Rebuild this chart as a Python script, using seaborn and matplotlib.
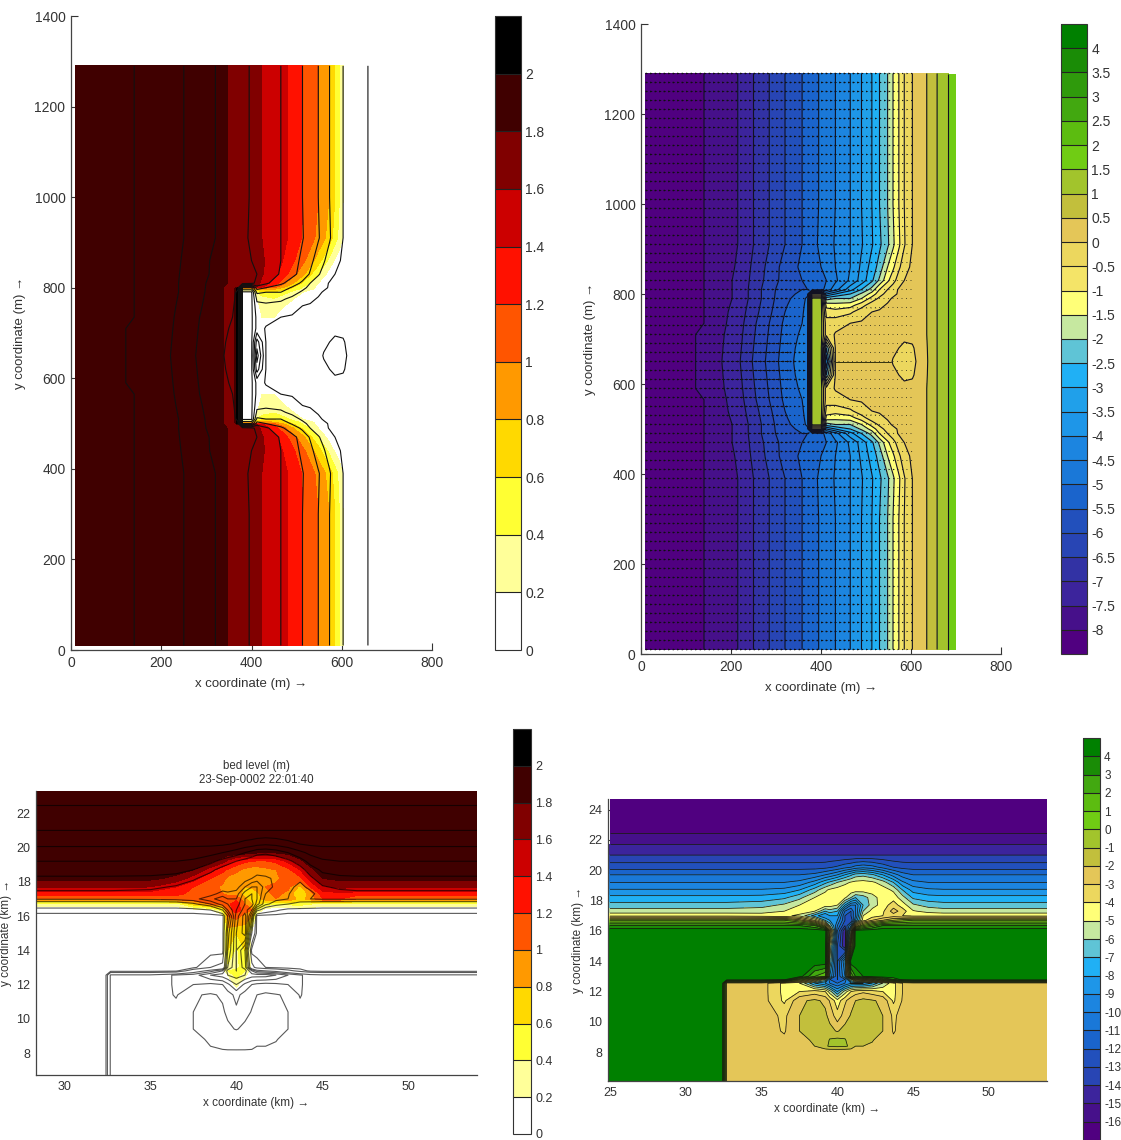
import numpy as np
import matplotlib
matplotlib.use('Agg')
import matplotlib.pyplot as plt
from matplotlib.colors import ListedColormap, BoundaryNorm
import seaborn as sns

W, H = 1121, 1140

# ---- top panels: rows are distance from the breakwater centre line (y = 650 m)
row_dy = [0, 30, 60, 85, 110, 125, 140, 150, 160, 180, 210, 260, 350, 640]
bed_x = [10, 140, 215, 250, 285, 320, 358, 370, 380, 400, 412, 432, 465, 490, 513, 530, 548, 560, 573, 585, 603, 635, 658, 683, 700]
bed_rows = [
    [-8.3, -7.95, -7.1, -6.45, -5.85, -5.25, -4.75, -4.6, 1.2, 1.2, -3.5, .02, .1, .1, .1, .1, .1, -.02, -.15, -.2, -.15, .45, 1, 1.5, 1.9],
    [-8.3, -7.95, -7.15, -6.5, -5.9, -5.3, -4.8, -4.6, 1.2, 1.2, -2.5, .02, .1, .1, .1, .1, .1, .06, 0, -.08, -.06, .47, 1, 1.5, 1.9],
    [-8.3, -7.95, -7.2, -6.55, -5.95, -5.35, -4.9, -4.6, 1.2, 1.2, -.3, .05, .1, .1, .1, .1, .1, .1, .1, .1, .15, .5, 1, 1.5, 1.9],
    [-8.3, -8, -7.25, -6.6, -6, -5.4, -5, -4.7, 1.2, 1.2, -.3, -.2, 0, .05, .1, .1, .1, .1, .1, .1, .2, .5, 1, 1.5, 1.9],
    [-8.3, -8, -7.3, -6.7, -6.1, -5.5, -5.1, -4.7, 1.2, 1.2, -.7, -.8, -.6, -.2, 0, .05, .1, .1, .1, .1, .2, .5, 1, 1.5, 1.9],
    [-8.3, -8, -7.35, -6.75, -6.15, -5.55, -5.2, -4.7, 1.2, 1.2, -1.2, -1.3, -1.2, -.7, -.2, -.1, .05, .1, .1, .1, .2, .5, 1, 1.5, 1.9],
    [-8.3, -8, -7.4, -6.8, -6.2, -5.6, -5.3, -4.8, 1.2, 1.2, -2.2, -2, -2, -1.5, -.8, -.4, -.1, .05, .1, .1, .2, .5, 1, 1.5, 1.9],
    [-8.3, -8, -7.4, -6.8, -6.2, -5.65, -5.4, -5.2, -1, -1, -3.5, -3, -2.5, -1.9, -1.3, -.7, -.3, -.1, .05, .1, .2, .5, 1, 1.5, 1.9],
    [-8.3, -8, -7.4, -6.8, -6.2, -5.7, -5.5, -5.5, -5.4, -5.2, -4.8, -4.2, -3.2, -2.5, -1.8, -1, -.5, -.2, .05, .1, .2, .5, 1, 1.5, 1.9],
    [-8.3, -8, -7.4, -6.85, -6.3, -5.8, -5.5, -5.45, -5.4, -5.2, -5, -4.6, -3.9, -3.3, -2.6, -1.9, -1.1, -.7, -.25, 0, .15, .5, 1, 1.5, 1.9],
    [-8.3, -8, -7.45, -6.9, -6.35, -5.8, -5.4, -5.3, -5.2, -5, -4.8, -4.5, -4, -3.4, -2.8, -2.3, -1.5, -1.1, -.6, -.2, .1, .5, 1, 1.5, 1.9],
    [-8.3, -8, -7.5, -7, -6.5, -6, -5.5, -5.3, -5.15, -4.9, -4.75, -4.45, -4, -3.55, -3.05, -2.6, -2.1, -1.6, -1.1, -.55, 0, .5, 1, 1.5, 1.9],
    [-8.3, -8, -7.5, -7, -6.5, -6, -5.5, -5.35, -5.2, -4.93, -4.77, -4.5, -4, -3.5, -3, -2.5, -2, -1.5, -1, -.5, 0, .5, 1, 1.5, 1.9],
    [-8.3, -8, -7.5, -7, -6.5, -6, -5.5, -5.35, -5.2, -4.93, -4.77, -4.5, -4, -3.5, -3, -2.5, -2, -1.5, -1, -.5, 0, .5, 1, 1.5, 1.9],
]
# thin line seen only in the bed level panel, east of the scour hole
centre_line_x = [430, 556]
centre_line_y = [650, 650]

wave_dy = [0, 60, 85, 110, 125, 140, 148, 152, 160, 180, 210, 260, 350, 640]
wave_x = [10, 140, 250, 320, 346, 362, 368, 380, 381, 404, 405, 412, 423, 450, 480, 514, 548, 572, 585, 595, 603, 620, 700]
wave_rows = [
    [1.95, 1.93, 1.9, 1.85, 1.78, 1.7, 2.15, 2.15, 0, 0, .05, .05, .05, .05, .05, .05, .05, .05, .05, .05, .05, .05, .05],
    [1.95, 1.93, 1.9, 1.85, 1.78, 1.7, 2.15, 2.15, 0, 0, .05, .05, .05, .05, .05, .05, .05, .05, .05, .05, .05, .05, .05],
    [1.95, 1.93, 1.9, 1.85, 1.78, 1.7, 2.15, 2.15, 0, 0, .05, .1, .2, .2, .1, .05, .05, .05, .05, .05, .05, .05, .05],
    [1.95, 1.93, 1.9, 1.85, 1.78, 1.7, 2.15, 2.15, 0, 0, .1, .15, .25, .28, .18, .06, .05, .05, .05, .05, .05, .05, .05],
    [1.95, 1.93, 1.9, 1.85, 1.78, 1.7, 2.15, 2.15, 0, 0, .1, .2, .32, .38, .25, .12, .05, .05, .05, .05, .05, .05, .05],
    [1.95, 1.93, 1.9, 1.85, 1.78, 1.7, 2.15, 2.15, 0, 0, .15, .4, .5, .55, .42, .2, .1, .05, .05, .05, .05, .05, .05],
    [1.95, 1.93, 1.9, 1.85, 1.78, 1.7, 2.15, 2.15, .6, .6, .8, .85, .9, .85, .65, .35, .15, .05, .05, .05, .05, .05, .05],
    [1.95, 1.93, 1.9, 1.85, 1.78, 1.72, 1.72, 1.72, 1.72, 1.72, 1.72, 1.6, 1.45, 1.1, .75, .4, .15, .05, .05, .05, .05, .05, .05],
    [1.95, 1.92, 1.88, 1.84, 1.8, 1.76, 1.75, 1.72, 1.72, 1.7, 1.7, 1.68, 1.55, 1.3, .95, .55, .2, .08, .05, .05, .05, .05, .05],
    [1.95, 1.92, 1.88, 1.84, 1.8, 1.76, 1.75, 1.72, 1.72, 1.7, 1.7, 1.7, 1.62, 1.48, 1.2, .85, .4, .12, .06, .05, .05, .05, .05],
    [1.95, 1.92, 1.88, 1.84, 1.8, 1.76, 1.75, 1.72, 1.72, 1.7, 1.7, 1.7, 1.62, 1.52, 1.33, 1.05, .7, .35, .17, .08, .05, .05, .05],
    [1.95, 1.92, 1.88, 1.84, 1.8, 1.76, 1.75, 1.72, 1.72, 1.66, 1.66, 1.63, 1.6, 1.5, 1.4, 1.18, .95, .72, .5, .33, .17, .05, .05],
    [1.95, 1.92, 1.88, 1.84, 1.8, 1.76, 1.75, 1.72, 1.72, 1.66, 1.66, 1.63, 1.6, 1.5, 1.4, 1.2, 1, .8, .6, .4, .2, .1, .05],
    [1.95, 1.92, 1.88, 1.84, 1.8, 1.76, 1.75, 1.72, 1.72, 1.66, 1.66, 1.63, 1.6, 1.5, 1.4, 1.2, 1, .8, .6, .4, .2, .1, .05],
]

# arrow lengths in m, read in blocks: bands of distance from centre line, 40 m bins in x
band_edges = [60, 110, 150, 200, 300]
arrow_u = [
    [6, 6, 6, 7, 8, 9, 10, 10, 6, 0, 2, 2, 2, 2, 2],
    [6, 6, 6, 7, 7, 8, 8, 8, 5, 0, 2, 2, 2, 2, 2],
    [6, 6, 6, 6, 7, 7, 7, 7, 4, 0, 3, 3, 3, 2, 2],
    [6, 6, 6, 6, 6, 6, 7, 7, 6, 6, 6, 5, 4, 3, 2],
    [6, 6, 6, 6, 6, 6, 6, 6, 7, 7, 7, 6, 5, 4, 3],
    [6, 6, 6, 6, 6, 6, 6, 6, 6, 6, 6, 6, 5, 5, 4],
]
arrow_v = [
    [0, 0, 0, 0, 0, 0, 0, 0, 0, 0, 0, 0, 0, 0, 0],
    [0, 0, 0, 0, 0, 0, 0, 0, 0, 0, 0, 0, 0, 0, 0],
    [0, 0, 0, 0, 0, 0, 0, 0, 0, 0, 1, 2, 2, 1, 0],
    [0, 0, 0, 0, 0, 0, 0, 0, 1, 2, 3, 3, 2, 1, 0],
    [0, 0, 0, 0, 0, 0, 0, 0, 0, 0, 1, 1, 0, 0, 0],
    [0, 0, 0, 0, 0, 0, 0, 0, 0, 0, 0, 0, 0, 0, 0],
]

# ---- bottom panels share one grid (km)
km_x = [25, 32.4, 32.7, 35, 36.5, 37.5, 38.5, 39.2, 39.5, 40, 40.5, 40.9, 41.2, 41.7, 42.3, 43, 43.7, 44.3, 45, 46, 47, 48, 50, 52, 54]
km_y = [6.1, 8.1, 8.4, 8.8, 9.4, 10.4, 11.4, 12, 12.55, 12.8, 13, 14, 15, 16, 16.35, 16.7, 17, 17.3, 17.7, 18.2, 18.7, 19.2, 19.7, 20.2, 21, 22.46, 24.7]
km_bed = [
    [4.8, 4.8] + [-2.5] * 23,
    [4.8, 4.8] + [-2.5] * 23,
    [4.8, 4.8, -2.5, -2.5, -2.5, -2.5, -2, -1.2, -.85, -.8, -.85, -1.2, -2, -2, -2.2, -2.5, -2.5] + [-2.5] * 8,
    [4.8, 4.8, -2.5, -2.5, -2.8, -2.6, -1.7, -1.6, -.9, -.7, -.9, -1.6, -1.7, -1.7, -1.9, -2.6, -2.8] + [-2.5] * 8,
    [4.8, 4.8, -2.5, -2.5, -3.1, -2, -1.6, -1.6, -1.7, -2.1, -1.6, -1.6, -1.6, -1.6, -1.7, -2, -3.1, -2.6] + [-2.5] * 7,
    [4.8, 4.8, -2.5, -2.5, -3.2, -2, -1.6, -1.8, -2.3, -3.6, -2.5, -1.9, -1.7, -1.6, -1.6, -2, -3.2, -2.6] + [-2.5] * 7,
    [4.8, 4.8, -2.5, -2.5, -4.2, -2.2, -1.8, -2.2, -3.1, -4.6, -3.2, -2.4, -2, -1.7, -1.9, -2.2, -4.2, -2.9] + [-2.5] * 7,
    [4.8, 4.8, -2.5, -2.5, -4.3, -4, -3.5, -4, -5.5, -8, -5.5, -4, -3.5, -3.2, -3.5, -4, -4.3, -3] + [-2.5] * 7,
    [4.8, 4.8, -2.5, -2.5, -4.3, -5, -8, -9, -10, -11, -10, -9, -9, -9, -8, -6, -4.3, -3] + [-2.5] * 7,
    [4.8, 4.8, 4.8, 4.8, 4.5, 0, -3, -6, -11, -12, -11, -6, -3, -2, -1, 1, 3, 4.5] + [4.8] * 7,
    [4.8] * 5 + [4.5, 2, 1, -8, -12, -9, 1, 3, 4, 4.5, 4.8, 4.8, 4.8] + [4.8] * 7,
    [4.8] * 8 + [-6, -12, -8, 4.8] + [4.8] * 13,
    [4.8] * 8 + [-5, -12, -15, -2] + [4.8] * 13,
    [4.8] * 8 + [-2, -11, -15, -6] + [4.8] * 13,
    [3] * 6 + [2, -2, -6, -10, -13, -10, -3, 0, 1.5] + [3] * 10,
    [0] * 5 + [-1.5, -4, -7, -8, -9, -12, -13, -9, -4.5, -3, -2, -1, -.5] + [0] * 7,
    [-4.3, -4.3, -4.3, -4.5, -4.8, -5.2, -7.5, -9, -8, -8, -12, -12, -10, -5, -4.5, -4, -3.5, -4] + [-4.3] * 7,
    [-5.5, -5.5, -5.5, -5.4, -5, -4.6, -5, -7, -6.5, -7, -11, -12, -10, -6, -4.6, -4.2, -2.5, -3.5, -4.9, -5.3] + [-5.5] * 5,
    [-6.6, -6.6, -6.6, -6.4, -5.8, -5, -4.4, -4.5, -4.5, -5, -8, -10, -10, -7, -5.5, -4.5, -3.5, -4.5, -5.8, -6.4] + [-6.6] * 5,
    [-7.7, -7.7, -7.7, -7.6, -7.2, -6.3, -5, -4.5, -4.4, -4.3, -4.8, -6, -7, -6.5, -5.5, -4.4, -4.4, -5.6, -7.2, -7.6] + [-7.7] * 5,
    [-8.9, -8.9, -8.9, -8.9, -8.7, -8, -6.5, -5.2, -4.8, -4.5, -4.3, -4.3, -4.4, -4.5, -4.4, -4.5, -5.2, -7, -8.4, -8.8] + [-8.9] * 5,
    [-10, -10, -10, -10, -10, -9.7, -8.6, -7.3, -6.8, -6, -5.3, -4.9, -4.7, -4.6, -4.8, -5.5, -7, -8.8, -9.7, -10] + [-10] * 5,
    [-11] * 6 + [-10.7, -10, -9.7, -9, -8, -7.2, -6.5, -6.3, -6.8, -8, -9.5, -10.5, -11, -11] + [-11] * 5,
    [-12.4] * 7 + [-12.3, -12.1, -11.8, -11.3, -11, -10.6, -10.3, -10.6, -11.3, -12, -12.3] + [-12.4] * 7,
    [-14] * 25,
    [-16] * 25,
    [-16.5] * 25,
]
km_height = [
    [.05] * 25, [.05] * 25, [.05] * 25, [.05] * 25, [.05] * 25, [.05] * 25, [.05] * 25,
    [.05] * 9 + [.25] + [.05] * 15,
    [.05] * 8 + [.2, .5, .25] + [.05] * 14,
    [.05] * 8 + [.4, .45, .4] + [.05] * 14,
    [.05] * 7 + [.1, .35, .35, .5, .1] + [.05] * 13,
    [.05] * 7 + [.1, .6, .35, .6, .1] + [.05] * 13,
    [.05] * 7 + [.1, .7, .6, .7, .1] + [.05] * 13,
    [.05] * 7 + [.1, 1, 1.1, .9, .8, .1] + [.05] * 12,
    [.05] * 5 + [.1, .15, .5, 1.1, 1.3, 1.1, 1, .4, .1] + [.05] * 11,
    [.3] * 5 + [.7, 1, 1.1, 1.15, 1.3, 1, .8, .6, .5, .4, .45, .5, .4] + [.3] * 7,
    [.95, .95, .95, .95, 1.1, 1.18, 1.15, 1.12, 1.1, 1.15, .85, .6, .7, .9, 1, 1, .7, .9, 1.2, 1.2] + [1] * 5,
    [1.3, 1.3, 1.3, 1.3, 1.25, 1.15, 1.1, 1, .95, .9, .7, .6, .75, .95, 1.05, .95, .55, .9, 1.3, 1.35] + [1.3] * 5,
    [1.65, 1.65, 1.65, 1.6, 1.4, 1.2, 1.1, .95, .9, .85, .8, .85, .9, 1, 1.05, 1.05, .75, 1.2, 1.55, 1.65] + [1.65] * 5,
    [1.85, 1.85, 1.85, 1.85, 1.75, 1.5, 1.2, 1.1, .95, .9, .88, .9, .9, .9, .95, 1.1, 1.15, 1.5, 1.8, 1.85] + [1.85] * 5,
    [1.9, 1.9, 1.9, 1.9, 1.88, 1.8, 1.5, 1.25, 1.18, 1.05, .95, .9, .9, .95, 1, 1.15, 1.4, 1.75, 1.9, 1.9] + [1.9] * 5,
    [1.92] * 6 + [1.85, 1.7, 1.55, 1.35, 1.25, 1.2, 1.18, 1.18, 1.25, 1.45, 1.75, 1.9, 1.92, 1.92] + [1.92] * 5,
    [1.95] * 7 + [1.94, 1.93, 1.92, 1.9, 1.86, 1.82, 1.8, 1.82, 1.88, 1.94, 1.95] + [1.95] * 7,
    [1.96] * 25, [1.96] * 25, [1.96] * 25, [1.96] * 25,
]
height_line_levels = [-16, -14, -12, -10, -8, -6, -4, -2, 2, 4]

height_colors = ['#ffffff', '#ffff99', '#ffff33', '#ffd900', '#ff9900', '#ff5500',
                 '#ff1100', '#cc0000', '#800000', '#400000', '#000000']
bed_colors = ['#500080', '#46108a', '#3c249c', '#3232a4', '#2845b4', '#2250bc', '#1a64cc',
              '#1a78d8', '#1c85e0', '#1e96e8', '#20a0ea', '#20b0f5', '#5fc4d6', '#c6e8a0',
              '#ffff78', '#f4e468', '#ecd75e', '#e4c658', '#c2bf3c', '#a2c42c', '#70cc14',
              '#5cbc10', '#42a810', '#2f9a0c', '#1a8c06', '#008000']
km_bed_colors = ['#500080', '#46108a', '#3c249c', '#2845b4', '#2250bc', '#1a64cc', '#1a78d8',
                 '#1c85e0', '#1e96e8', '#20b0f5', '#5fc4d6', '#c6e8a0', '#ffff78', '#ecd75e',
                 '#e4c658', '#c2bf3c', '#a2c42c', '#70cc14', '#5cbc10', '#42a810', '#1a8c06', '#008000']

height_ticks = ['0', '0.2', '0.4', '0.6', '0.8', '1', '1.2', '1.4', '1.6', '1.8', '2']
bed_ticks = ['-8', '-7.5', '-7', '-6.5', '-6', '-5.5', '-5', '-4.5', '-4', '-3.5', '-3', '-2.5', '-2',
             '-1.5', '-1', '-0.5', '0', '0.5', '1', '1.5', '2', '2.5', '3', '3.5', '4']
km_bed_ticks = [str(v) for v in range(-16, 5)]

sns.set_theme(style='ticks')
plt.rcParams['font.family'] = ['Liberation Sans', 'DejaVu Sans']
plt.rcParams['contour.negative_linestyle'] = 'solid'
text_color = '#333333'


def box(x0, y0, x1, y1):
    return [x0 / W, 1 - y1 / H, (x1 - x0) / W, (y1 - y0) / H]


def mirror(dy, rows):
    rows = np.array(rows, dtype=float)
    dy = np.array(dy, dtype=float)
    y = np.concatenate([650 - dy[::-1], 650 + dy[1:]])
    return y, np.vstack([rows[::-1], rows[1:]])


def filled(ax, x, y, z, levels, colors):
    cmap = ListedColormap(colors)
    norm = BoundaryNorm(levels, cmap.N)
    return ax.contourf(x, y, z, levels=levels, cmap=cmap, norm=norm)


def style_ax(ax, xlim, ylim, xticks, yticks, xlabel, ylabel, size=10, pad=4, lpad=6):
    ax.set_xlim(*xlim)
    ax.set_ylim(*ylim)
    ax.set_xticks(xticks)
    ax.set_yticks(yticks)
    ax.tick_params(direction='in', length=5, width=0.8, labelsize=size, colors=text_color, pad=pad)
    ax.set_xlabel(xlabel, fontsize=size - 0.5, color=text_color, labelpad=lpad)
    ax.set_ylabel(ylabel, fontsize=size - 0.5, color=text_color, labelpad=lpad)
    ax.patch.set_alpha(0)
    sns.despine(ax=ax)
    for s in ['left', 'bottom']:
        ax.spines[s].set_linewidth(0.9)
        ax.spines[s].set_color('#444444')


def bar(fig, rect, cs, bounds, labels, size=10):
    cax = fig.add_axes(box(*rect))
    cb = fig.colorbar(cs, cax=cax, drawedges=True, spacing='proportional')
    cb.set_ticks(bounds)
    cb.set_ticklabels(labels)
    cb.dividers.set_linewidth(0.8)
    cb.dividers.set_color('#222222')
    cb.outline.set_linewidth(0.8)
    cb.outline.set_edgecolor('#333333')
    cax.minorticks_off()
    cax.tick_params(which='both', length=0, labelsize=size, colors=text_color, pad=3)
    return cb


fig = plt.figure(figsize=(W / 100, H / 100), dpi=100)

bed_y, bed_z = mirror(row_dy, bed_rows)
wave_y, wave_z = mirror(wave_dy, wave_rows)

# wave height
ax = fig.add_axes(box(71, 16, 432, 650))
levels = np.arange(0, 2.21, 0.2)
cs = filled(ax, wave_x, wave_y, wave_z, levels, height_colors)
ax.contour(bed_x, bed_y, bed_z, levels=np.arange(-8, 1.1, 1), colors='#111111', linewidths=0.8)
style_ax(ax, (0, 800), (0, 1400), range(0, 801, 200), range(0, 1401, 200),
         'x coordinate (m) →', 'y coordinate (m) →')
bar(fig, (495, 16, 521, 650), cs, levels[:-1], height_ticks)

# bed level with flow arrows
ax = fig.add_axes(box(641, 24, 1001, 654))
levels = np.arange(-8.5, 4.51, 0.5)
cs = filled(ax, bed_x, bed_y, bed_z, levels, bed_colors)
ax.contour(bed_x, bed_y, bed_z, levels=np.arange(-8, 2, 0.5), colors='#111122', linewidths=0.8)
ax.plot(centre_line_x, centre_line_y, color='#333311', lw=0.7)
qx = np.arange(10, 610, 10)
qy = np.arange(10, 1291, 20)
gx, gy = np.meshgrid(qx, qy)
band = np.digitize(np.abs(gy - 650), band_edges)
xbin = (gx - 10) // 40
u = np.array(arrow_u, dtype=float)[band, xbin]
v = np.array(arrow_v, dtype=float)[band, xbin] * -np.sign(gy - 650)
keep = u > 0
ax.quiver(gx[keep], gy[keep], u[keep], v[keep], angles='xy', scale_units='xy', scale=1,
          width=0.0028, headwidth=2.2, headlength=2.5, headaxislength=2.2, color='#101010')
style_ax(ax, (0, 800), (0, 1400), range(0, 801, 200), range(0, 1401, 200),
         'x coordinate (m) →', 'y coordinate (m) →')
bar(fig, (1061, 24, 1087, 654), cs, levels[1:-1], bed_ticks)

# model wave height, full basin
ax = fig.add_axes(box(36, 791, 477, 1075))
levels = np.arange(0, 2.21, 0.2)
cs = filled(ax, km_x, km_y, np.array(km_height), levels, height_colors)
ax.contour(km_x, km_y, np.array(km_bed), levels=height_line_levels, colors='black', alpha=0.65, linewidths=0.8)
style_ax(ax, (28.37, 53.97), (6.72, 23.3), range(30, 51, 5), range(8, 23, 2),
         'x coordinate (km) →', 'y coordinate (km) →', size=9, lpad=3)
ax.set_title('bed level (m)\n23-Sep-0002 22:01:40', fontsize=8.3, color=text_color, pad=6)
bar(fig, (513, 729, 531, 1134), cs, levels[:-1], height_ticks, size=9)

# model bed level, full basin
ax = fig.add_axes(box(608, 799, 1047, 1081))
levels = np.arange(-17, 5.1, 1)
cs = filled(ax, km_x, km_y, np.array(km_bed), levels, km_bed_colors)
ax.contour(km_x, km_y, np.array(km_bed), levels=np.arange(-16, 5), colors='#1a1a10', linewidths=0.55)
style_ax(ax, (24.87, 53.83), (6.1, 24.7), range(25, 51, 5), range(8, 25, 2),
         'x coordinate (km) →', 'y coordinate (km) →', size=9, lpad=3)
bar(fig, (1083, 738, 1100, 1140), cs, levels[1:-1], km_bed_ticks, size=8.5)

fig.savefig('out.png', dpi=100)
